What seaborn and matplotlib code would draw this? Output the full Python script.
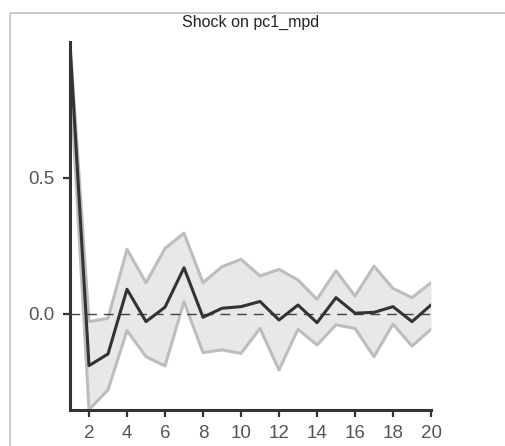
import numpy as np
import pandas as pd
import matplotlib
matplotlib.use("Agg")
import matplotlib.pyplot as plt
from matplotlib.lines import Line2D
import seaborn as sns

# Impulse response of pc1_mpd with its confidence band, horizons 1..20
horizon = list(range(1, 21))
irf = [0.99, -0.19, -0.147, 0.091, -0.028, 0.025, 0.170, -0.012, 0.021, 0.027,
       0.046, -0.022, 0.033, -0.032, 0.060, 0.003, 0.006, 0.027, -0.028, 0.033]
upper = [1.0, -0.028, -0.016, 0.238, 0.115, 0.241, 0.297, 0.115, 0.174, 0.201,
         0.140, 0.164, 0.125, 0.054, 0.159, 0.066, 0.176, 0.094, 0.060, 0.115]
lower = [0.88, -0.352, -0.279, -0.061, -0.157, -0.191, 0.045, -0.142, -0.132, -0.145,
         -0.053, -0.206, -0.056, -0.114, -0.040, -0.053, -0.157, -0.037, -0.118, -0.056]
x_ticks = [2, 4, 6, 8, 10, 12, 14, 16, 18, 20]
y_ticks = [0.0, 0.5]
title = "Shock on pc1_mpd"

df = pd.DataFrame({"h": horizon, "irf": irf, "upper": upper, "lower": lower})

sns.set_theme(style="ticks")
plt.rcParams["font.family"] = ["Liberation Sans", "DejaVu Sans"]

W, H = 505, 446
fig = plt.figure(figsize=(W / 100, H / 100), dpi=100)
fig.patch.set_linewidth(0)
ax = fig.add_axes([70 / W, (H - 410) / H, (431 - 70) / W, (410 - 42) / H])

# confidence band
ax.fill_between(df["h"], df["lower"], df["upper"], color="#e8e8e8", linewidth=0, zorder=1)
sns.lineplot(data=df, x="h", y="upper", color="#bdbdbd", linewidth=2.2, ax=ax, zorder=2)
sns.lineplot(data=df, x="h", y="lower", color="#bdbdbd", linewidth=2.2, ax=ax, zorder=2)

# zero reference
ax.axhline(0, color="#444444", linewidth=1.0, linestyle=(0, (7, 5)), zorder=3)

# point estimate
sns.lineplot(data=df, x="h", y="irf", color="#333333", linewidth=2.2, ax=ax, zorder=4)

ax.set_xlim(1, 20)
ax.set_ylim(-0.353, 1.0)
ax.set_xticks(x_ticks)
ax.set_xticklabels([str(t) for t in x_ticks])
ax.set_yticks(y_ticks)
ax.set_yticklabels([f"{v:.1f}" for v in y_ticks])
ax.set_xlabel("")
ax.set_ylabel("")

for side in ("top", "right"):
    ax.spines[side].set_visible(False)
for side in ("left", "bottom"):
    ax.spines[side].set_color("#333333")
    ax.spines[side].set_linewidth(2.2)

ax.tick_params(axis="both", colors="#333333", width=1.6, length=5, labelsize=13.5,
               labelcolor="#555555", pad=6)

fig.text(250.5 / W, 1 - 22 / H, title, ha="center", va="center",
         fontsize=11.5, color="#222222")

# panel frame (top and left edges)
fig.add_artist(Line2D([10 / W, 1.0], [1 - 13 / H, 1 - 13 / H],
                      transform=fig.transFigure, color="#c0c0c0", linewidth=1.2,
                      solid_capstyle="butt"))
fig.add_artist(Line2D([10 / W, 10 / W], [-0.01, 1 - 13 / H],
                      transform=fig.transFigure, color="#c0c0c0", linewidth=1.2,
                      solid_capstyle="butt"))

fig.savefig("out.png", dpi=100, facecolor="white", edgecolor="none")
